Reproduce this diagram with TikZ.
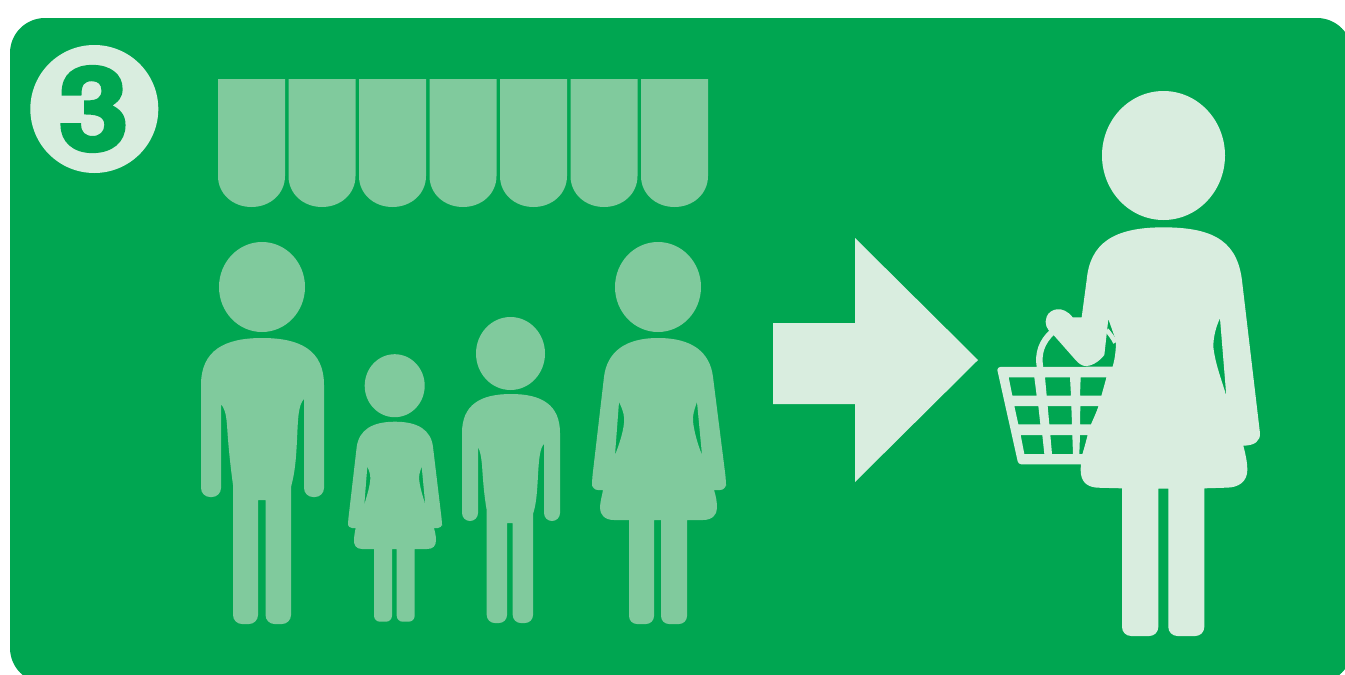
\documentclass[tikz,border=0pt]{standalone}
\usepackage{fontspec}
\setmainfont{TeX Gyre Heros}
\definecolor{bggreen}{HTML}{00A651}
\definecolor{palefig}{HTML}{D9EDDF}
\definecolor{midfig}{HTML}{80CA9D}
\tikzset{
  crowd/.style={fill=midfig,even odd rule},
  shopper/.style={fill=palefig,even odd rule},
  badge/.style={circle,fill=palefig,text=bggreen,minimum size=128pt,inner sep=0pt,font=\fontsize{116}{116}\bfseries},
  tab/.style={fill=midfig}
}
\newcommand{\awntab}[1]{\fill[tab,shift={(#1,0)}] (0,79) -- (67,79) -- (67,176) .. controls (67,194) and (52,207) .. (33.5,207) .. controls (15,207) and (0,194) .. (0,176) -- cycle;}
\begin{document}
\begin{tikzpicture}[x=1pt,y=-1pt]
\useasboundingbox (0,0) rectangle (1345,675);
\fill[white] (0,0) rectangle (1345,675);
\fill[bggreen,rounded corners=35pt] (10,18) rectangle (1352,683);
% badge
\node[badge] (num) at (94.3,109) {\hspace*{-1.2pt}\scalebox{1.09}[1]{\special{pdf:literal 2 Tr 3.2 w 0 0.651 0.318 RG}3\special{pdf:literal 0 Tr}}};
% awning
\awntab{218}\awntab{288.5}\awntab{359}\awntab{429.5}\awntab{500}\awntab{570.5}\awntab{641}
% man
\fill[crowd] (262,287) ellipse (43 and 45);
\fill[crowd] (201,385) .. controls (201,350) and (225,338) .. (262,338) .. controls (300,338) and (324,350) .. (324,385)
 [rounded corners=9pt] -- (324,497) -- (304,497) [sharp corners] -- (304,399) .. controls (298,405) and (298,420) .. (297,440) .. controls (296,460) and (295,472) .. (291,487)
 [rounded corners=9pt] -- (291,624) -- (265.5,624) [sharp corners] -- (265.5,500) -- (258,500)
 [rounded corners=9pt] -- (258,624) -- (233,624) [sharp corners] -- (233,485) .. controls (229,455) and (228,440) .. (227,425) .. controls (226,412) and (224,408) .. (221,404)
 [rounded corners=9pt] -- (221,497) -- (201,497) [sharp corners] -- cycle;
% boy
\fill[crowd] (510.5,353.5) ellipse (34.5 and 36.5);
\fill[crowd] (462,433) .. controls (462,405) and (480,394) .. (511,394) .. controls (542,394) and (560,405) .. (560,433)
 [rounded corners=8pt] -- (560,521) -- (544,521) [sharp corners] -- (544,444) .. controls (540,448) and (539,458) .. (538,475) .. controls (537,495) and (536,505) .. (533,514)
 [rounded corners=8pt] -- (533,623) -- (512.7,623) [sharp corners] -- (512.7,523) -- (507,523)
 [rounded corners=8pt] -- (507,623) -- (486.7,623) [sharp corners] -- (486.7,510) .. controls (484,495) and (483,480) .. (482,465) .. controls (481,455) and (480,451) .. (478,447)
 [rounded corners=8pt] -- (478,521) -- (462,521) [sharp corners] -- cycle;
% girl
\fill[crowd] (394.7,385.7) ellipse (30 and 31.5);
\fill[crowd] (356.7,447) .. controls (359,430) and (372,421.7) .. (395,421.7) .. controls (418,421.7) and (431,430) .. (433,447)
 [rounded corners=4pt] -- (442,522) -- (442,528) [sharp corners] -- (434,528) .. controls (435,532) and (436,536) .. (436,540) .. controls (436,546) and (433,549) .. (427,549) -- (414.7,549)
 [rounded corners=6pt] -- (414.7,621.7) -- (396.7,621.7) [sharp corners] -- (396.7,549) -- (392,549)
 [rounded corners=6pt] -- (392,621.7) -- (374,621.7) [sharp corners] -- (374,549)
 -- (362,549) .. controls (356,549) and (353.5,545) .. (354,539) .. controls (354.3,535) and (355,531) .. (355.7,528)
 [rounded corners=4pt] -- (348,528) -- (348,522) [sharp corners] -- cycle
 (367.3,466.7) .. controls (370,472) and (371,477) .. (370,482) .. controls (369,490) and (366,498) .. (364.3,505) -- cycle
 (421.7,466.7) .. controls (419.5,472) and (418.5,477) .. (419.3,481) .. controls (420.5,490) and (423.5,498) .. (425.3,505) -- cycle;
% woman
\fill[crowd] (658,287) ellipse (43 and 45);
\fill[crowd] (604,377) .. controls (607,352) and (625,338) .. (658,338) .. controls (692,338) and (710,352) .. (713,377)
 [rounded corners=6pt] -- (726,480) -- (726,490) [sharp corners] -- (714,490) .. controls (716,496) and (717,502) .. (717,508) .. controls (717,515) and (712,520) .. (703,520) -- (687,520)
 [rounded corners=8pt] -- (687,624) -- (661,624) [sharp corners] -- (661,520) -- (654,520)
 [rounded corners=8pt] -- (654,624) -- (629,624) [sharp corners] -- (629,520)
 -- (614,520) .. controls (604,520) and (600,514) .. (600,508) .. controls (600,502) and (602,496) .. (603,490)
 [rounded corners=6pt] -- (592,490) -- (592,480) [sharp corners] -- cycle
 (619,402) .. controls (623,410) and (625,417) .. (624,423) .. controls (623,433) and (619,445) .. (615,455) -- cycle
 (697,402) .. controls (694,410) and (692.5,416) .. (693,421) .. controls (694,432) and (698,445) .. (702,455) -- cycle;
% arrow
\fill[palefig] (773,323) -- (855,323) -- (855,238) -- (978,360) -- (855,482) -- (855,404) -- (773,404) -- cycle;
% shopper
\fill[shopper] (1163.5,155.5) ellipse (61.5 and 64.5);
\begin{scope}[shift={(990,220)},x=0.33333pt,y=-0.33333pt]
\draw[palefig,line width=6.5pt] (150,442) .. controls (143,400) and (155,365) .. (188,335);
\draw[palefig,line width=4.5pt] (350,330) .. controls (360,342) and (370,355) .. (376,368);
\fill[shopper] (520,22) .. controls (680,22) and (745,70) .. (757,190)
 -- (810,640) .. controls (811,662) and (795,677) .. (760,677)
 .. controls (770,715) and (772,735) .. (772,750) .. controls (772,785) and (745,803) .. (710,803)
 -- (643,805)
 [rounded corners=9pt] -- (643,1248) -- (535,1248) [sharp corners] -- (535,806) -- (505,806)
 [rounded corners=9pt] -- (505,1248) -- (396,1248) [sharp corners] -- (396,805)
 -- (320,803) .. controls (290,800) and (272,785) .. (272,750)
 .. controls (272,735) and (274,715) .. (278,700)
 -- (325,560) -- (350,470) -- (368,440) .. controls (375,415) and (378,390) .. (378,362)
 -- (355,297) -- (348,360) -- (343,405) .. controls (325,428) and (300,440) .. (285,438)
 .. controls (275,437) and (265,430) .. (255,418)
 -- (188,342) .. controls (170,330) and (162,310) .. (170,290) .. controls (180,265) and (220,255) .. (248,292)
 -- (275,292) -- (290,180) .. controls (300,70) and (370,22) .. (520,22) -- cycle
 (690,295) .. controls (678,320) and (670,350) .. (670,380) .. controls (675,430) and (695,480) .. (709,528) -- cycle;
\fill[shopper] (22,450) [rounded corners=3pt] -- (22,441) [sharp corners] -- (372,440) -- (350,500) -- (300,640) -- (275,733)
 [rounded corners=3pt] -- (85,733) [sharp corners] -- cycle
 (56,472) -- (133,472) -- (140,527) -- (67,527) -- cycle
 (165,472) -- (240,472) -- (243,527) -- (170,527) -- cycle
 (272,472) -- (350,472) -- (340,527) -- (270,527) -- cycle
 (73,558) -- (145,558) -- (151,613) -- (85,613) -- cycle
 (173,558) -- (244,558) -- (246,613) -- (178,613) -- cycle
 (271,558) -- (327,558) -- (303,613) -- (270,613) -- cycle
 (92,645) -- (157,645) -- (163,702) -- (103,702) -- cycle
 (181,645) -- (247,645) -- (249,702) -- (186,702) -- cycle
 (270,645) -- (293,645) -- (278,702) -- (268,702) -- cycle;
\end{scope}
\end{tikzpicture}
\end{document}
